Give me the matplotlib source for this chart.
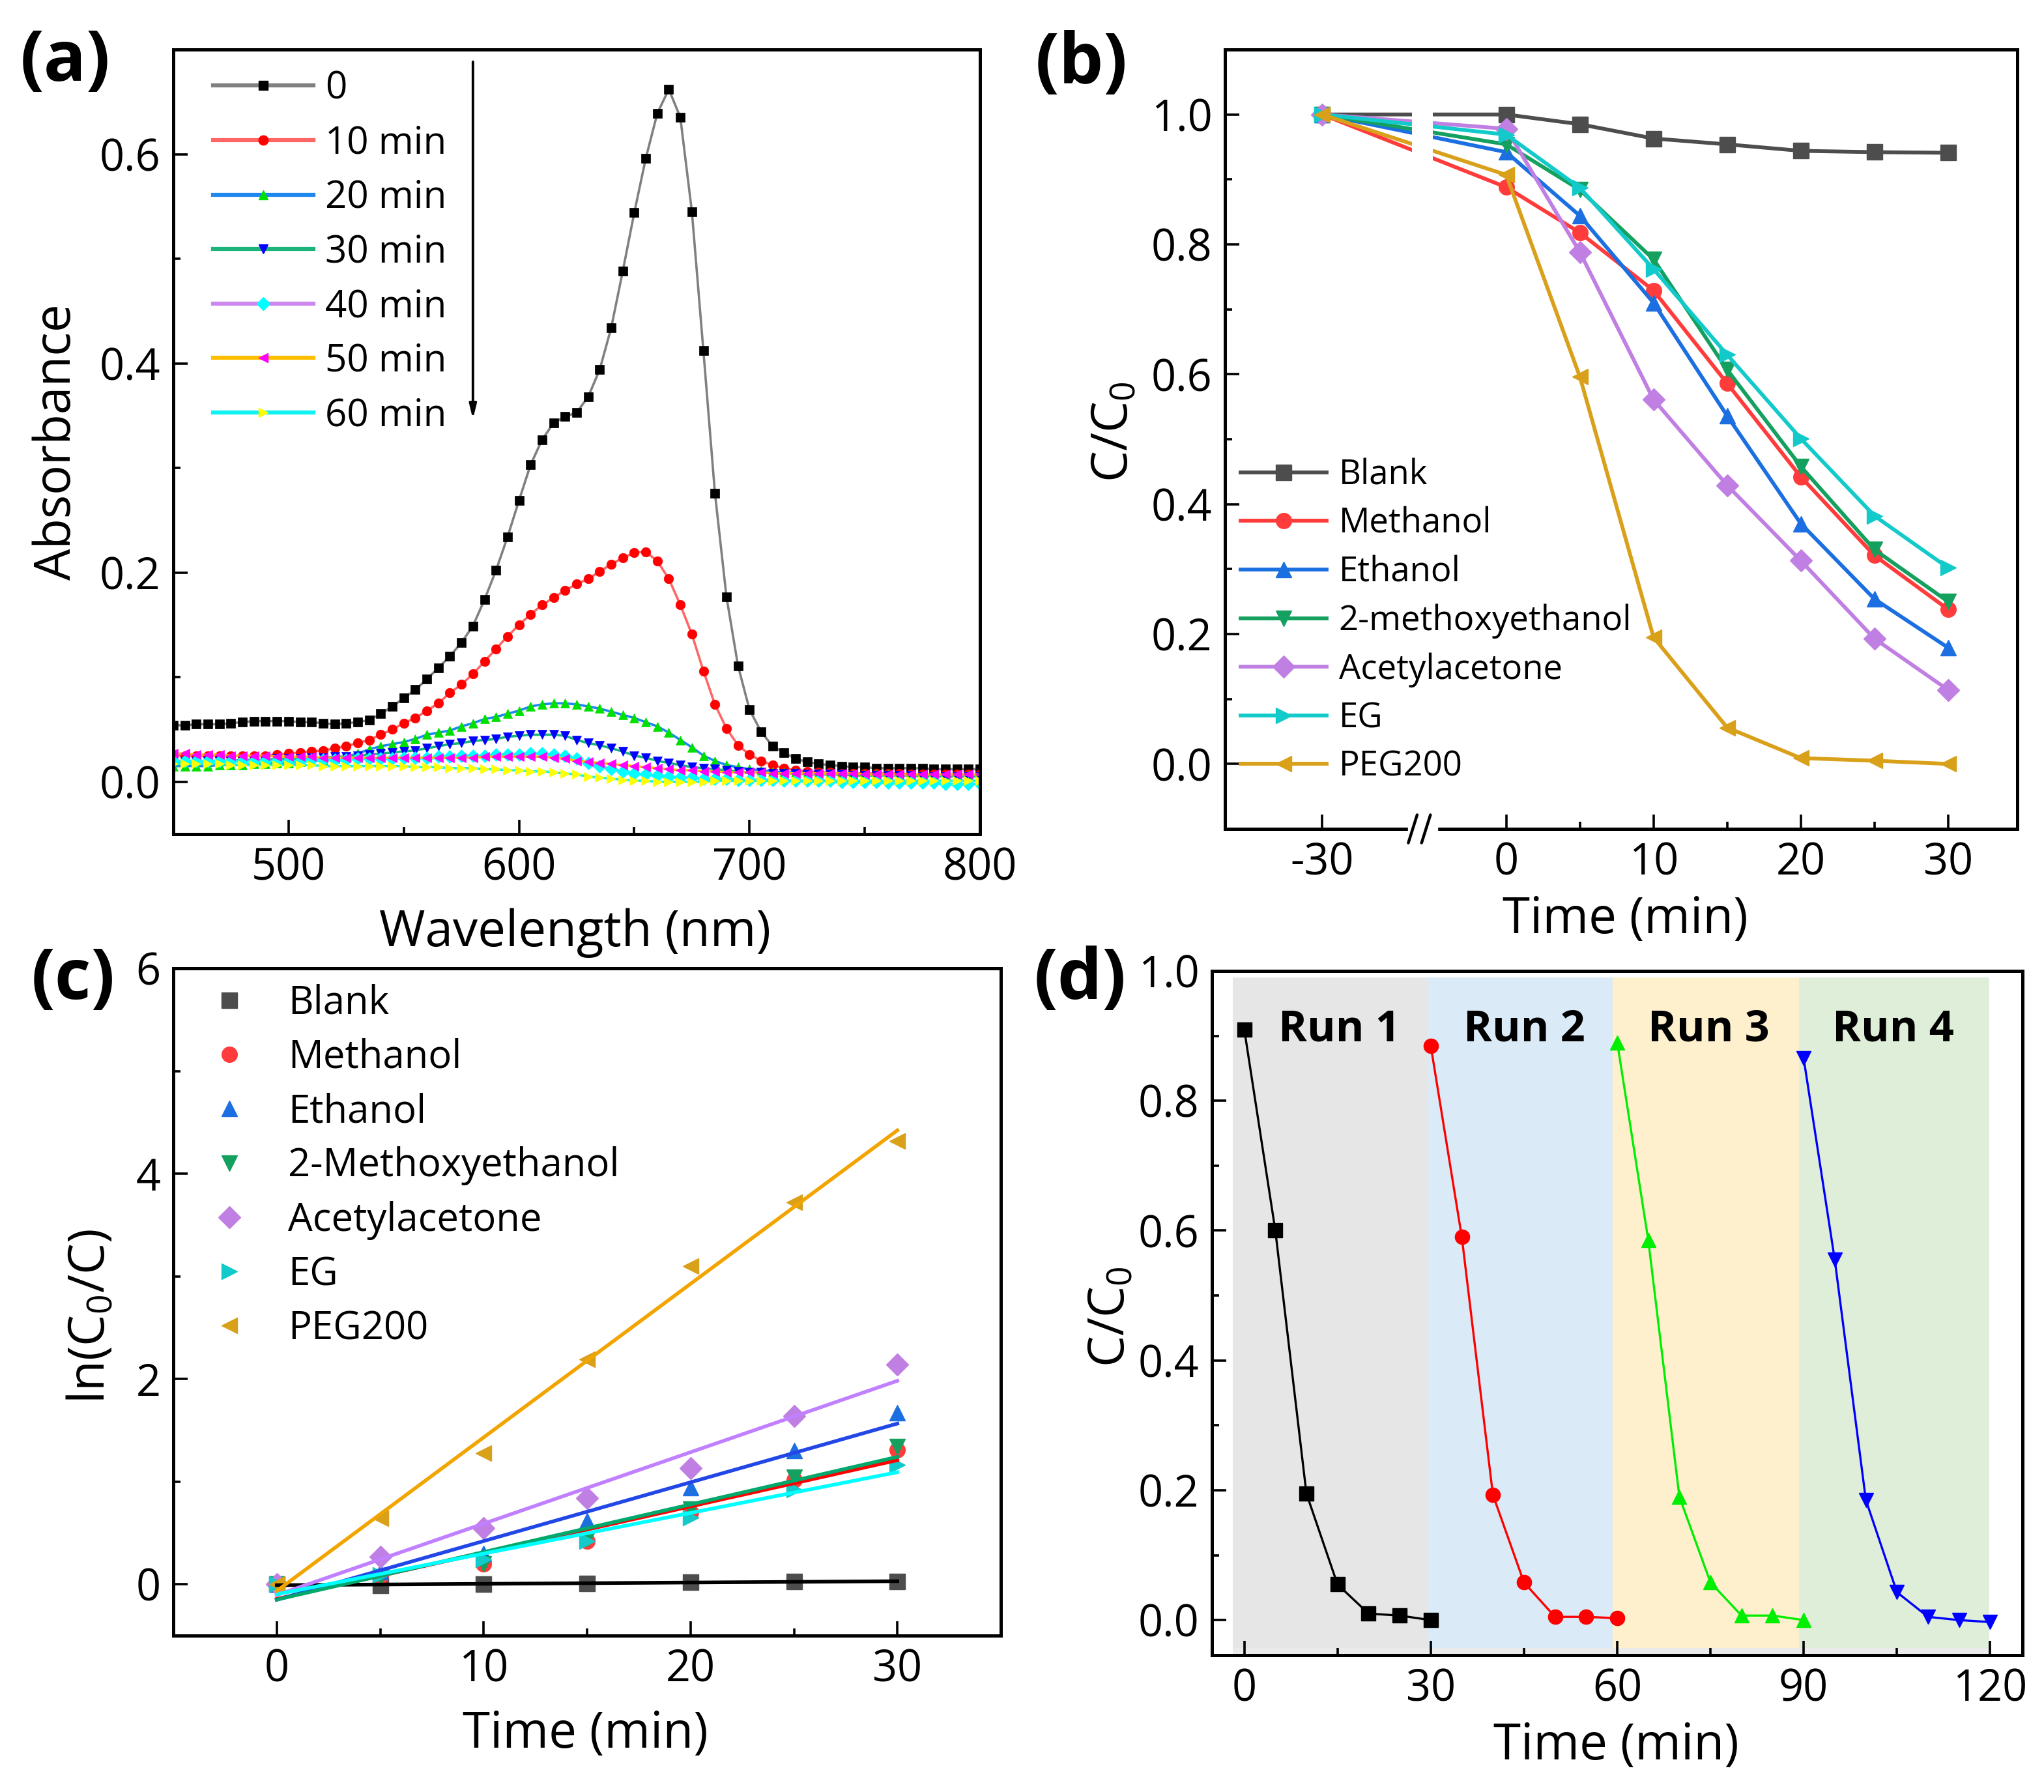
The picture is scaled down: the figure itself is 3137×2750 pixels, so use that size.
import numpy as np
import matplotlib
matplotlib.use("Agg")
import matplotlib.pyplot as plt
from matplotlib.lines import Line2D
import matplotlib.transforms as mtrans

plt.rcParams['font.family'] = ['Open Sans', 'DejaVu Sans']
plt.rcParams['mathtext.fontset'] = 'custom'
plt.rcParams['mathtext.rm'] = 'Open Sans'

# ---------------- data: (a) UV-vis spectra ----------------
wl = list(range(450, 801, 5))
abs_0 = [0.054, 0.054, 0.055, 0.055, 0.055, 0.056, 0.057, 0.058, 0.058, 0.058,
         0.058, 0.057, 0.057, 0.056, 0.055, 0.056, 0.057, 0.059, 0.065, 0.072,
         0.080, 0.088, 0.098, 0.109, 0.120, 0.133, 0.149, 0.174, 0.202, 0.234,
         0.269, 0.303, 0.327, 0.343, 0.349, 0.353, 0.368, 0.394, 0.434, 0.488,
         0.544, 0.596, 0.639, 0.662, 0.635, 0.545, 0.412, 0.276, 0.177, 0.111,
         0.069, 0.048, 0.034, 0.028, 0.022, 0.019, 0.017, 0.016, 0.015, 0.014,
         0.014, 0.013, 0.013, 0.013, 0.013, 0.013, 0.012, 0.012, 0.012, 0.012, 0.012]
abs_10 = [0.025, 0.025, 0.025, 0.025, 0.025, 0.025, 0.025, 0.025, 0.025, 0.026,
          0.027, 0.028, 0.029, 0.030, 0.032, 0.034, 0.037, 0.040, 0.045, 0.050,
          0.056, 0.061, 0.068, 0.075, 0.085, 0.093, 0.103, 0.115, 0.127, 0.139,
          0.150, 0.160, 0.169, 0.176, 0.183, 0.189, 0.194, 0.201, 0.208, 0.214,
          0.219, 0.220, 0.211, 0.194, 0.169, 0.141, 0.106, 0.074, 0.051, 0.035,
          0.026, 0.020, 0.016, 0.013, 0.011, 0.010, 0.009, 0.009, 0.008, 0.008,
          0.008, 0.008, 0.008, 0.008, 0.007, 0.007, 0.007, 0.007, 0.007, 0.007, 0.007]
abs_20 = [0.015, 0.015, 0.015, 0.015, 0.016, 0.016, 0.016, 0.017, 0.017, 0.018,
          0.018, 0.019, 0.020, 0.021, 0.022, 0.024, 0.027, 0.031, 0.034, 0.036,
          0.038, 0.041, 0.045, 0.047, 0.049, 0.053, 0.056, 0.060, 0.062, 0.065,
          0.068, 0.072, 0.074, 0.075, 0.075, 0.074, 0.072, 0.070, 0.067, 0.064,
          0.061, 0.057, 0.053, 0.047, 0.040, 0.033, 0.025, 0.020, 0.016, 0.014,
          0.012, 0.011, 0.010, 0.009, 0.009, 0.008, 0.008, 0.008, 0.007, 0.007,
          0.007, 0.007, 0.007, 0.006, 0.006, 0.006, 0.006, 0.006, 0.006, 0.006, 0.006]
abs_30 = [0.019, 0.019, 0.019, 0.020, 0.020, 0.020, 0.021, 0.021, 0.021, 0.022,
          0.022, 0.022, 0.023, 0.023, 0.024, 0.024, 0.025, 0.026, 0.027, 0.028,
          0.029, 0.030, 0.032, 0.034, 0.036, 0.037, 0.039, 0.040, 0.041, 0.043,
          0.044, 0.045, 0.045, 0.045, 0.044, 0.040, 0.037, 0.035, 0.032, 0.029,
          0.025, 0.023, 0.020, 0.018, 0.016, 0.014, 0.013, 0.012, 0.011, 0.010,
          0.009, 0.009, 0.008, 0.008, 0.008, 0.007, 0.007, 0.007, 0.007, 0.006,
          0.006, 0.006, 0.006, 0.006, 0.006, 0.005, 0.005, 0.005, 0.005, 0.005, 0.005]
abs_40 = [0.020, 0.020, 0.020, 0.020, 0.020, 0.020, 0.020, 0.020, 0.020, 0.020,
          0.020, 0.020, 0.021, 0.021, 0.021, 0.021, 0.022, 0.022, 0.022, 0.022,
          0.023, 0.023, 0.023, 0.024, 0.024, 0.025, 0.025, 0.025, 0.026, 0.026,
          0.026, 0.027, 0.027, 0.026, 0.025, 0.022, 0.018, 0.015, 0.012, 0.010,
          0.008, 0.007, 0.006, 0.005, 0.004, 0.004, 0.003, 0.003, 0.003, 0.002,
          0.002, 0.002, 0.002, 0.001, 0.001, 0.001, 0.001, 0.001, 0.000, 0.000,
          0.000, 0.000, -0.001, -0.001, -0.001, -0.001, -0.001, -0.002, -0.002, -0.002, -0.002]
abs_50 = [0.027, 0.027, 0.026, 0.026, 0.026, 0.025, 0.025, 0.025, 0.025, 0.024,
          0.024, 0.024, 0.024, 0.023, 0.023, 0.023, 0.023, 0.023, 0.023, 0.023,
          0.023, 0.023, 0.023, 0.023, 0.023, 0.023, 0.023, 0.024, 0.024, 0.024,
          0.024, 0.024, 0.024, 0.023, 0.022, 0.020, 0.019, 0.018, 0.017, 0.016,
          0.015, 0.014, 0.013, 0.012, 0.011, 0.011, 0.010, 0.010, 0.009, 0.009,
          0.009, 0.009, 0.008, 0.008, 0.008, 0.008, 0.008, 0.008, 0.008, 0.008,
          0.007, 0.007, 0.007, 0.007, 0.007, 0.007, 0.007, 0.007, 0.007, 0.007, 0.007]
abs_60 = [0.017, 0.017, 0.017, 0.017, 0.017, 0.016, 0.016, 0.016, 0.016, 0.016,
          0.016, 0.016, 0.016, 0.015, 0.015, 0.015, 0.015, 0.015, 0.015, 0.015,
          0.015, 0.014, 0.014, 0.014, 0.013, 0.013, 0.013, 0.012, 0.012, 0.011,
          0.011, 0.010, 0.010, 0.009, 0.008, 0.007, 0.005, 0.004, 0.003, 0.002,
          0.001, 0.001, 0.000, 0.000, 0.000, 0.000, 0.000, 0.001, 0.001, 0.001,
          0.001, 0.001, 0.001, 0.001, 0.001, 0.001, 0.001, 0.001, 0.001, 0.001,
          0.001, 0.001, 0.001, 0.001, 0.001, 0.001, 0.001, 0.001, 0.001, 0.001, 0.001]
spec_labels = ["0", "10 min", "20 min", "30 min", "40 min", "50 min", "60 min"]
spec_line_colors = ["#808080", "#FF6666", "#1E88F0", "#1DB47A", "#CC88EE", "#FFBE00", "#10F2F2"]
spec_mark_colors = ["#000000", "#FF0000", "#00E000", "#0000FF", "#00FFFF", "#FF00FF", "#FFFF00"]
spec_markers = ["s", "o", "^", "v", "D", "<", ">"]

# ---------------- data: (b) C/C0 vs time ----------------
t_b = [-30, 0, 5, 10, 15, 20, 25, 30]
solvents_b = ["Blank", "Methanol", "Ethanol", "2-methoxyethanol", "Acetylacetone", "EG", "PEG200"]
blank_b = [1.0, 1.0, 0.985, 0.963, 0.954, 0.944, 0.942, 0.941]
methanol_b = [1.0, 0.888, 0.818, 0.729, 0.586, 0.442, 0.321, 0.238]
ethanol_b = [1.0, 0.942, 0.844, 0.710, 0.536, 0.370, 0.254, 0.179]
methoxy_b = [1.0, 0.954, 0.884, 0.777, 0.607, 0.458, 0.330, 0.250]
acac_b = [1.0, 0.978, 0.788, 0.561, 0.429, 0.313, 0.193, 0.114]
eg_b = [1.0, 0.969, 0.887, 0.762, 0.630, 0.501, 0.382, 0.302]
peg_b = [1.0, 0.907, 0.596, 0.195, 0.056, 0.009, 0.005, 0.0]

sol_colors = ["#4D4D4D", "#FF3B3B", "#1C6FE0", "#14A05E", "#C07FE2", "#12CACA", "#D9A01A"]
sol_markers = ["s", "o", "^", "v", "D", ">", "<"]

# ---------------- data: (c) ln(C0/C) kinetics ----------------
t_c = [0, 5, 10, 15, 20, 25, 30]
solvents_c = ["Blank", "Methanol", "Ethanol", "2-Methoxyethanol", "Acetylacetone", "EG", "PEG200"]
blank_c = [0.0, -0.01, 0.0, 0.01, 0.02, 0.025, 0.03]
methanol_c = [0.0, 0.08, 0.20, 0.42, 0.70, 1.02, 1.31]
ethanol_c = [0.0, 0.12, 0.30, 0.62, 0.94, 1.30, 1.67]
methoxy_c = [0.0, 0.07, 0.20, 0.44, 0.73, 1.04, 1.34]
acac_c = [0.0, 0.27, 0.55, 0.84, 1.13, 1.64, 2.14]
eg_c = [0.0, 0.09, 0.24, 0.42, 0.65, 0.92, 1.16]
peg_c = [0.0, 0.64, 1.28, 2.19, 3.10, 3.72, 4.32]
fit_colors = ["#000000", "#FF0000", "#2247E6", "#00A86B", "#C080FF", "#00FFFF", "#F2A400"]

# ---------------- data: (d) recycling runs ----------------
t_run1 = [0, 5, 10, 15, 20, 25, 30]
t_run2 = [30, 35, 40, 45, 50, 55, 60]
t_run3 = [60, 65, 70, 75, 80, 85, 90]
t_run4 = [90, 95, 100, 105, 110, 115, 120]
run1 = [0.91, 0.60, 0.195, 0.055, 0.01, 0.007, 0.0]
run2 = [0.885, 0.59, 0.193, 0.058, 0.005, 0.005, 0.003]
run3 = [0.89, 0.585, 0.19, 0.058, 0.007, 0.007, 0.0]
run4 = [0.865, 0.555, 0.185, 0.043, 0.005, 0.0, -0.003]
run_labels = ["Run 1", "Run 2", "Run 3", "Run 4"]
run_colors = ["#000000", "#FF0000", "#00EE00", "#0000FF"]
run_markers = ["s", "o", "^", "v"]
band_edges = [-1.8, 29.4, 59.3, 89.2, 119.9]
band_colors = ["#E6E6E6", "#DAEAF6", "#FEF0CD", "#DFEED9"]

W, H = 3137, 2750
fig = plt.figure(figsize=(W / 100, H / 100), dpi=100)

def box(l, r, t, b):
    return [l / W, 1 - b / H, (r - l) / W, (b - t) / H]

TICK_FS = 48
LAB_FS = 55

def style(ax):
    for s in ax.spines.values():
        s.set_linewidth(3.6)
    ax.tick_params(which='both', direction='in', top=False, right=False, width=2.6,
                   labelsize=TICK_FS, pad=14)
    ax.tick_params(which='major', length=16)
    ax.tick_params(which='minor', length=8)

# ---------- (a) ----------
axa = fig.add_axes(box(266, 1504, 76, 1280))
spectra = [abs_0, abs_10, abs_20, abs_30, abs_40, abs_50, abs_60]
for y, lab, lc, mc, mk in zip(spectra, spec_labels, spec_line_colors, spec_mark_colors, spec_markers):
    axa.plot(wl, y, color=lc, lw=2.6, marker=mk, ms=10.5, mfc=mc, mec=mc, mew=0.5, label=lab)
axa.set_xlim(450, 800)
axa.set_ylim(-0.05, 0.7)
axa.set_xticks([500, 600, 700, 800])
axa.set_xticks([550, 650, 750], minor=True)
axa.set_yticks([0.0, 0.2, 0.4, 0.6])
axa.set_yticks([0.1, 0.3, 0.5], minor=True)
axa.yaxis.set_major_formatter(plt.FormatStrFormatter('%.1f'))
style(axa)
axa.annotate('', xy=(580, 0.345), xytext=(580, 0.69),
             arrowprops=dict(arrowstyle='-|>,head_length=1.3,head_width=0.32', lw=2.8, color='k'))
ha = [Line2D([0], [0], color=lc, lw=4.5, marker=mk, ms=10.5, mfc=mc, mec=mc)
      for lc, mc, mk in zip(spec_line_colors, spec_mark_colors, spec_markers)]
axa.legend(ha, spec_labels, loc='upper left', bbox_to_anchor=(0.049, 0.974), frameon=False,
           fontsize=42, handlelength=2.65, handletextpad=0.3, labelspacing=0.43,
           borderpad=0, borderaxespad=0, markerscale=1.0)

# ---------- (b) ----------
axb = fig.add_axes(box(1880, 3096, 76, 1272))
POS30 = -12.5  # drawn position of t = -30 on the broken axis
xb = [POS30 if t == -30 else t for t in t_b]
series_b = [blank_b, methanol_b, ethanol_b, methoxy_b, acac_b, eg_b, peg_b]
for y, lab, c, mk in zip(series_b, solvents_b, sol_colors, sol_markers):
    axb.plot(xb, y, color=c, lw=4.2, marker=mk, ms=17, mfc=c, mec=c, label=lab)
axb.axvspan(-6.4, -5.0, ymin=(0.9 + 0.1) / 1.2, ymax=(1.03 + 0.1) / 1.2, color='white', lw=0, zorder=3)
axb.set_xlim(-19.1, 34.7)
axb.set_ylim(-0.1, 1.1)
axb.set_xticks([POS30, 0, 10, 20, 30])
axb.set_xticklabels(['-30', '0', '10', '20', '30'])
axb.set_xticks([5, 15, 25], minor=True)
axb.set_yticks([0.0, 0.2, 0.4, 0.6, 0.8, 1.0])
axb.set_yticks([0.1, 0.3, 0.5, 0.7, 0.9], minor=True)
axb.yaxis.set_major_formatter(plt.FormatStrFormatter('%.1f'))
style(axb)
# axis break marks
bt = mtrans.blended_transform_factory(axb.transData, axb.transAxes)
axb.plot([-6.5, -4.8], [0.0, 0.0], color='white', lw=6, transform=bt, clip_on=False, zorder=10)
for x0 in (-6.35, -5.45):
    axb.plot([x0 - 0.3, x0 + 0.3], [-0.018, 0.018], color='k', lw=3.2, transform=bt,
             clip_on=False, zorder=11, solid_capstyle='round')
axb.legend(loc='upper left', bbox_to_anchor=(0.02, 0.476), frameon=False, fontsize=38,
           handlelength=2.5, handletextpad=0.35, labelspacing=0.40, borderpad=0, borderaxespad=0)

# ---------- (c) ----------
axc = fig.add_axes(box(266, 1536, 1486, 2510))
series_c = [blank_c, methanol_c, ethanol_c, methoxy_c, acac_c, eg_c, peg_c]
for y, lab, c, mk in zip(series_c, solvents_c, sol_colors, sol_markers):
    axc.plot(t_c, y, ls='none', marker=mk, ms=17, mfc=c, mec=c, label=lab, zorder=3)
tt = np.array([t_c[0], t_c[-1]])
for y, fc in zip(series_c, fit_colors):
    k, b0 = np.polyfit(t_c, y, 1)
    axc.plot(tt, k * tt + b0, color=fc, lw=4, zorder=4)
axc.set_xlim(-5, 35)
axc.set_ylim(-0.5, 6)
axc.set_xticks([0, 10, 20, 30])
axc.set_xticks([5, 15, 25], minor=True)
axc.set_yticks([0, 2, 4, 6])
axc.set_yticks([1, 3, 5], minor=True)
style(axc)
axc.legend(loc='upper left', bbox_to_anchor=(0.035, 0.977), frameon=False, fontsize=43,
           handlelength=1.4, handletextpad=0.8, labelspacing=0.39, borderpad=0, borderaxespad=0)

# ---------- (d) ----------
axd = fig.add_axes(box(1860, 3104, 1490, 2540))
axd.axvspan(band_edges[0], band_edges[-1], ymin=0, ymax=0.02, color='#EBEBEB', lw=0, zorder=0)
for i, c in enumerate(band_colors):
    axd.axvspan(band_edges[i], band_edges[i + 1], ymin=(-0.043 + 0.054) / 1.054,
                ymax=(0.99 + 0.054) / 1.054, color=c, lw=0, zorder=0.5)
runs_t = [t_run1, t_run2, t_run3, t_run4]
runs_y = [run1, run2, run3, run4]
for x, y, c, mk in zip(runs_t, runs_y, run_colors, run_markers):
    axd.plot(x, y, color=c, lw=2.4, marker=mk, ms=16, mfc=c, mec=c, zorder=3)
for i, lab in enumerate(run_labels):
    axd.text(15.3 + 30 * i - 0.3 * i, 0.91, lab, fontsize=48, fontweight='bold',
             ha='center', va='center', zorder=4)
axd.set_xlim(-5.2, 125.2)
axd.set_ylim(-0.054, 1.0)
axd.set_xticks([0, 30, 60, 90, 120])
axd.set_xticks([15, 45, 75, 105], minor=True)
axd.set_yticks([0.0, 0.2, 0.4, 0.6, 0.8, 1.0])
axd.set_yticks([0.1, 0.3, 0.5, 0.7, 0.9], minor=True)
axd.yaxis.set_major_formatter(plt.FormatStrFormatter('%.1f'))
style(axd)

# ---------- axis labels and panel tags ----------
def ftext(x, y, s, **kw):
    fig.text(x / W, 1 - y / H, s, ha='center', va='center', **kw)

ftext(88, 678, 'Absorbance', fontsize=LAB_FS, rotation=90)
ftext(882, 1432, 'Wavelength (nm)', fontsize=LAB_FS)
ftext(1710, 663, r'C/C$_\mathregular{0}$', fontsize=LAB_FS, rotation=90)
ftext(2494, 1412, 'Time (min)', fontsize=LAB_FS)
ftext(140, 2020, r'ln(C$_\mathregular{0}$/C)', fontsize=LAB_FS, rotation=90)
ftext(898, 2662, 'Time (min)', fontsize=LAB_FS)
ftext(1705, 2021, r'C/C$_\mathregular{0}$', fontsize=LAB_FS, rotation=90)
ftext(2480, 2680, 'Time (min)', fontsize=LAB_FS)

ftext(100, 96, '(a)', fontsize=78, fontweight='bold')
ftext(1660, 100, '(b)', fontsize=78, fontweight='bold')
ftext(112, 1505, '(c)', fontsize=78, fontweight='bold')
ftext(1658, 1505, '(d)', fontsize=78, fontweight='bold')

fig.savefig("out.png", dpi=100, facecolor='white')
